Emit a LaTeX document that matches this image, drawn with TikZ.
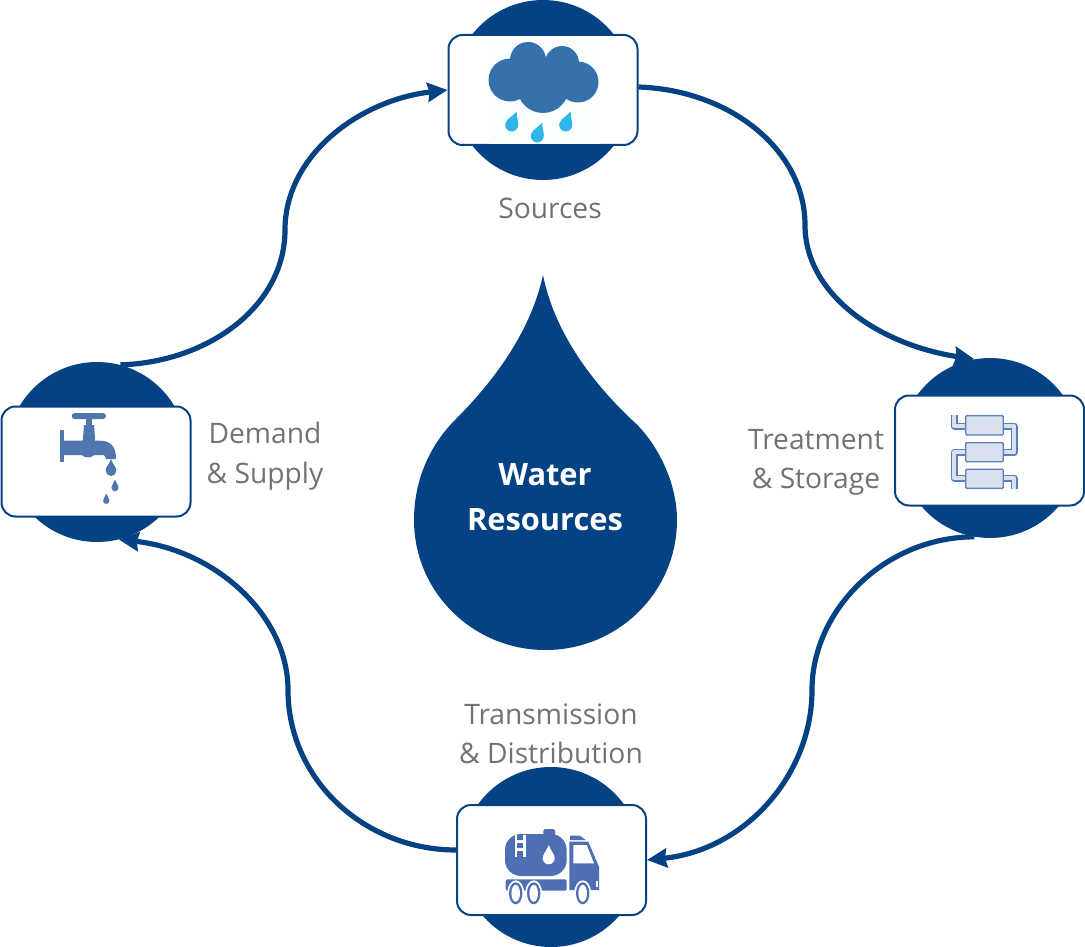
\documentclass[tikz,border=0pt]{standalone}
\usepackage{fontspec}
\setmainfont{Open Sans}
\usetikzlibrary{arrows.meta}
\definecolor{navy}{HTML}{054283}
\definecolor{lab}{HTML}{767171}
\definecolor{cloudc}{HTML}{3572AB}
\definecolor{rain}{HTML}{2FB5E8}
\definecolor{tapc}{HTML}{4F77AE}
\definecolor{truckc}{HTML}{4F6FB5}
\definecolor{pipel}{HTML}{5B7FBE}
\definecolor{pipef}{HTML}{D9E1EE}
\tikzset{
 hub/.style={circle,fill=navy,minimum size=180pt,inner sep=0pt,draw=none},
 card/.style={rectangle,rounded corners=14pt,draw=navy,line width=2pt,fill=white,minimum width=189pt,minimum height=110pt,inner sep=0pt},
 lbl/.style={text=lab,align=center,font=\fontsize{28.2}{39.5}\selectfont},
 flow/.style={draw=navy,line width=5.2pt,-{Stealth[length=20pt,width=19pt,inset=2pt]}},
 pipeo/.style={draw=pipel,line width=7pt,line join=round},
 pipei/.style={draw=pipef,line width=4pt,line join=round},
 tank/.style={draw=pipel,line width=1.3pt,fill=pipef,rounded corners=1pt}
}
\newcommand{\wdrop}[5]{\begin{scope}[shift={(#1,#2)},scale=#3,rotate=#4]
 \fill[#5] (0,-2.2) .. controls (-0.3,-1.3) and (-1,-0.7) .. (-1,0) .. controls (-1,0.55) and (-0.55,1) .. (0,1) .. controls (0.55,1) and (1,0.55) .. (1,0) .. controls (1,-0.7) and (0.3,-1.3) .. (0,-2.2) -- cycle;
\end{scope}}
\begin{document}
\begin{tikzpicture}[x=1pt,y=-1pt]
\useasboundingbox (0,0) rectangle (1085,947);
% hubs
\node[hub] (srcH) at (543,90) {};
\node[hub] (demH) at (97,452) {};
\node[hub] (treH) at (990,448) {};
\node[hub] (traH) at (551,857) {};
\node[card] (src) at (543,90) {};
\node[card] (dem) at (96,461.5) {};
\node[card] (tre) at (989.5,450.5) {};
\node[card] (tra) at (551.5,860) {};
\draw[flow] (demH.75) .. controls (210,362) and (285,305) .. (285,230) .. controls (285,155) and (360,100) .. (src.west);
\draw[flow] ([yshift=3pt]src.east) .. controls (730,90) and (805,150) .. (805,225) .. controls (805,295) and (880,345) .. (treH.100);
\draw[flow] (treH.260) .. controls (885,537) and (812,610) .. (812,690) .. controls (812,775) and (745,850) .. (tra.east);
\draw[flow] ([yshift=10pt]tra.west) .. controls (365,850) and (288,780) .. (288,690) .. controls (288,615) and (215,550) .. (demH.284);
% cloud
\fill[white!98.5!cyan] (489,40) rectangle (600,144);
\foreach \cx/\cy/\cr in {528/60/18,562/63/17,510/80/21.5,578/82/20.5,543/87/26}{\fill[cloudc] (\cx,\cy) circle (\cr);}
\fill[cloudc] (512,62) rectangle (578,98);
\wdrop{511.7}{125}{6.5}{-20}{rain}
\wdrop{537.3}{136}{6.5}{-20}{rain}
\wdrop{565.7}{125}{6.5}{-20}{rain}
% faucet
\fill[tapc,rounded corners=3pt] (71.7,413) rectangle (106,419);
\fill[tapc] (86,419) rectangle (91.7,427);
\fill[tapc] (84,425) -- (94,425) -- (95,438) -- (83,438) -- cycle;
\fill[tapc] (60.3,430) rectangle (64,462);
\fill[tapc] (83,437) rectangle (95,442);
\fill[tapc] (63,440.7) -- (100,440.7) .. controls (111,440.7) and (116,447) .. (116,459) -- (106,459) .. controls (106,456) and (105,455) .. (101,455) -- (63,455) -- cycle;
\fill[tapc] (88,448) circle (9.5);
\wdrop{111}{470.7}{5.3}{0}{tapc}
\wdrop{115}{487.7}{3.6}{0}{tapc}
\wdrop{106.3}{500.7}{3.2}{0}{tapc}
% treatment icon
\draw[pipeo] (954.3,415) -- (954.3,426) -- (965.7,426);
\draw[pipeo] (1003.3,426) -- (1014,426) -- (1014,452.3) -- (1003.3,452.3);
\draw[pipeo] (965.7,452.3) -- (954.3,452.3) -- (954.3,478.3) -- (965.7,478.3);
\draw[pipeo] (1003.3,478.3) -- (1014,478.3) -- (1014,489.3);
\draw[pipei] (954.3,415) -- (954.3,426) -- (966,426);
\draw[pipei] (1003,426) -- (1014,426) -- (1014,452.3) -- (1003,452.3);
\draw[pipei] (966,452.3) -- (954.3,452.3) -- (954.3,478.3) -- (966,478.3);
\draw[pipei] (1003,478.3) -- (1014,478.3) -- (1014,489.3);
\draw[tank] (965.7,415.7) rectangle (1003.3,435);
\draw[tank] (965.7,442.7) rectangle (1003.3,461.7);
\draw[tank] (965.7,469.3) rectangle (1003.3,488.3);
% truck
\fill[truckc,rounded corners=16pt] (505,834) rectangle (566.7,876);
\fill[truckc,rounded corners=1.5pt] (543.3,829) rectangle (555,836);
\fill[white] (514.5,835) rectangle (517,857);
\fill[white] (523,835) rectangle (526,857);
\fill[white] (514.5,840) rectangle (526,843);
\fill[white] (514.5,848) rectangle (526,851);
\fill[truckc] (517,843) rectangle (523,848);
\wdrop{548.7}{858.3}{6}{0}{white}
\fill[truckc,rounded corners=2pt] (505.7,879.3) rectangle (566.7,890.7);
\fill[truckc] (569.3,841.7) -- (588.3,841.7) -- (599,866.7) -- (599,890) -- (569.3,890) -- cycle;
\fill[truckc] (570,835.7) -- (580,835.7) -- (585.7,840) -- (570,840) -- cycle;
\fill[white] (573.3,845) -- (586.7,845) -- (594,863.3) -- (573.3,863.3) -- cycle;
\fill[white] (596,881) rectangle (598,887);
\foreach \wx in {515.7,533.7,582.7}{
 \fill[white] (\wx,893.3) ellipse (8.5 and 13);
 \fill[truckc] (\wx,893.3) ellipse (6.7 and 11);
 \fill[white] (\wx,893.3) ellipse (4.3 and 8.5);
}
% central drop
\fill[navy] (543,275) .. controls (530,335) and (490,385) .. (455,420) .. controls (430,445) and (414,480) .. (414,520) .. controls (414,592) and (473,650) .. (545.5,650) .. controls (618,650) and (677,592) .. (677,520) .. controls (677,480) and (655,440) .. (632,420) .. controls (595,385) and (555,335) .. (543,275) -- cycle;
\node[align=center,text=white,font=\fontsize{30.8}{45}\selectfont\bfseries] (core) at (545,497) {Water\\Resources};
% labels
\node[lbl] (l1) at (550,208) {Sources};
\node[lbl] (l2) at (265,456) {Demand\\\& Supply};
\node[lbl] (l3) at (816,462.5) {Treatment\\\& Storage};
\node[lbl] (l4) at (551,734) {Transmission\\\& Distribution};
\end{tikzpicture}
\end{document}
